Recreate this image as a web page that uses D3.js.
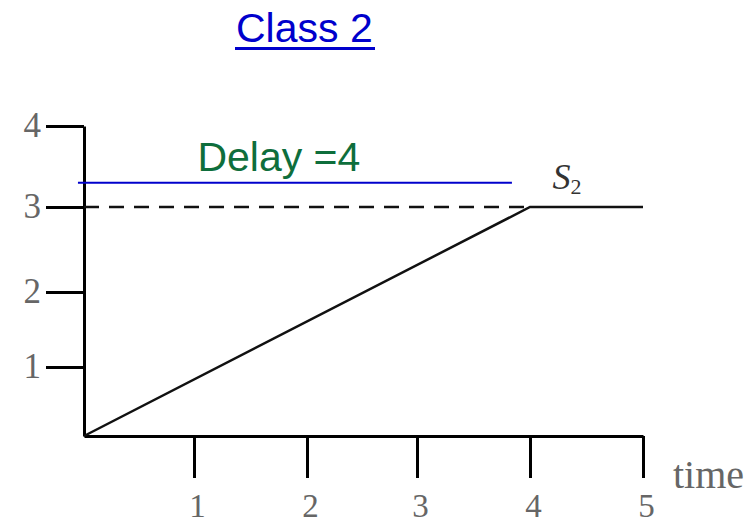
<!DOCTYPE html>
<html><head><meta charset="utf-8">
<script src="https://cdn.jsdelivr.net/npm/d3@7"></script>
<style>html,body{margin:0;padding:0;background:#fff;}</style>
</head><body>
<script>
// ---- data ----
const titleText = "Class 2";
const xTicks = [1, 2, 3, 4, 5];
const yTicks = [1, 2, 3, 4];
const xTickLabels = ["1", "2", "3", "4", "5"];
const yTickLabels = ["1", "2", "3", "4"];
const curveTime = [0, 4, 5];
const curveValue = [0, 3, 3];
const dashedLevel = 3;
const dashedTime = [0, 4];
const delayText = "Delay =4";
const delayBarTime = [-0.055, 3.84];
const delayBarValue = 3.3;
const seriesName = "S";
const seriesSub = "2";
const xAxisTitle = "time";

const W = 755, H = 525;
const svg = d3.select("body").append("svg").attr("width", W).attr("height", H)
  .style("background", "#fff");

const x = d3.scaleLinear().domain([0, 1, 2, 3, 4, 5]).range([84, 194, 307, 417, 530, 643]);
const y = d3.scaleLinear().domain([0, 1, 2, 3, 4]).range([436, 367, 292, 207, 126]);

// title
svg.append("text").attr("x", 236).attr("y", 42)
  .attr("font-family", "Liberation Sans, Arial, sans-serif").attr("font-size", 41)
  .attr("fill", "#0000CC").text(titleText);
svg.append("line").attr("x1", 235).attr("x2", 375).attr("y1", 48.5).attr("y2", 48.5)
  .attr("stroke", "#0000CC").attr("stroke-width", 3);

// y axis
const yAxis = d3.axisLeft(y).tickValues(yTicks).tickSize(38).tickSizeOuter(0)
  .tickPadding(5).tickFormat((d, i) => yTickLabels[i]);
const gy = svg.append("g").attr("transform", `translate(${x(0)},0)`).call(yAxis);
gy.select(".domain").attr("stroke", "#000").attr("stroke-width", 3);
gy.selectAll(".tick line").attr("stroke", "#000").attr("stroke-width", 3);
gy.selectAll(".tick text").attr("font-family", "Liberation Serif, Times New Roman, serif")
  .attr("font-size", 35).attr("fill", "#666").attr("dy", "0.3em");

// x axis
const xAxis = d3.axisBottom(x).tickValues(xTicks).tickSize(42).tickSizeOuter(0)
  .tickFormat((d, i) => xTickLabels[i]);
const gx = svg.append("g").attr("transform", `translate(0,${y(0)})`).call(xAxis);
gx.select(".domain").attr("stroke", "#000").attr("stroke-width", 3);
gx.selectAll(".tick line").attr("stroke", "#000").attr("stroke-width", 3);
gx.selectAll(".tick text").attr("font-family", "Liberation Serif, Times New Roman, serif")
  .attr("font-size", 33).attr("fill", "#666").attr("y", 81).attr("dy", 0).attr("dx", 3);

svg.append("text").attr("x", x(5) + 30).attr("y", y(0) + 52)
  .attr("font-family", "Liberation Serif, Times New Roman, serif").attr("font-size", 40)
  .attr("fill", "#666").text(xAxisTitle);

// dashed level line
svg.append("line").attr("x1", x(dashedTime[0])).attr("x2", x(dashedTime[1]))
  .attr("y1", y(dashedLevel)).attr("y2", y(dashedLevel))
  .attr("stroke", "#111").attr("stroke-width", 2.5).attr("stroke-dasharray", "15,10");

// curve
const pts = curveTime.map((t, i) => [t, curveValue[i]]);
svg.append("path").datum(pts)
  .attr("d", d3.line().x(d => x(d[0])).y(d => y(d[1])))
  .attr("fill", "none").attr("stroke", "#111").attr("stroke-width", 2.5);

// delay bar
svg.append("line").attr("x1", x(delayBarTime[0])).attr("x2", x(delayBarTime[1]))
  .attr("y1", y(delayBarValue)).attr("y2", y(delayBarValue))
  .attr("stroke", "#0000CC").attr("stroke-width", 2);
svg.append("text").attr("x", x(1.03)).attr("y", y(3.44))
  .attr("font-family", "Liberation Sans, Arial, sans-serif").attr("font-size", 41)
  .attr("fill", "#0E6E3C").text(delayText);

// series label
const lab = svg.append("text").attr("x", x(4.2)).attr("y", y(3.22))
  .attr("font-family", "Liberation Serif, Times New Roman, serif").attr("font-style", "italic")
  .attr("font-size", 36).attr("fill", "#333");
lab.append("tspan").text(seriesName);
lab.append("tspan").attr("font-size", 22).attr("font-style", "normal").attr("dy", 5).text(seriesSub);
</script>
</body></html>
